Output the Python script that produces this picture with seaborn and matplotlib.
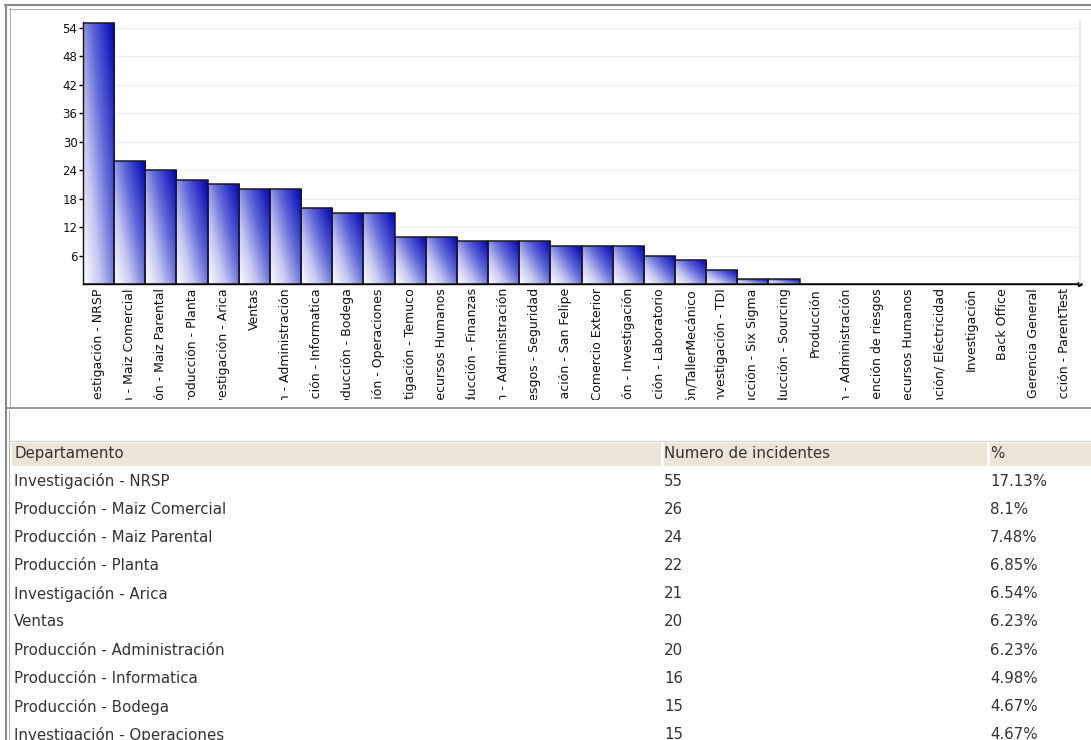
import numpy as np
import matplotlib
matplotlib.use("Agg")
import matplotlib.pyplot as plt
import seaborn as sns
from matplotlib.colors import LinearSegmentedColormap
from matplotlib.lines import Line2D
from matplotlib.patches import Rectangle
from matplotlib.transforms import Bbox, TransformedBbox

# Departamentos (full names; the chart only shows the end of each one)
departamentos = [
    "Investigación - NRSP", "Producción - Maiz Comercial", "Producción - Maiz Parental",
    "Producción - Planta", "Investigación - Arica", "Ventas", "Producción - Administración",
    "Producción - Informatica", "Producción - Bodega", "Investigación - Operaciones",
    "Investigación - Temuco", "Administración - Recursos Humanos", "Producción - Finanzas",
    "Investigación - Administración", "Prevención de riesgos - Seguridad",
    "Investigación - San Felipe", "Finanzas - Comercio Exterior", "Administración - Investigación",
    "Investigación - Laboratorio", "Mantención/TallerMecánico", "Investigación - TDI",
    "Producción - Six Sigma", "Producción - Sourcing", "Producción", "Operación - Administración",
    "Prevención de riesgos", "Gerencia - Recursos Humanos", "Mantención/ Eléctricidad",
    "Investigación", "Back Office", "Gerencia General", "Producción - ParentTest",
]
incidentes = [55, 26, 24, 22, 21, 20, 20, 16, 15, 15, 10, 10, 9, 9, 9, 8, 8, 8, 6, 5, 3, 1, 1,
              0, 0, 0, 0, 0, 0, 0, 0, 0]
y_ticks = [6, 12, 18, 24, 30, 36, 42, 48, 54]

# table below the chart (first rows only)
tabla_cols = ["Departamento", "Numero de incidentes", "%"]
tabla_pct = ["17.13%", "8.1%", "7.48%", "6.85%", "6.54%", "6.23%", "6.23%", "4.98%", "4.67%", "4.67%"]

W, H = 1091, 740
sns.set_theme(style="white")
plt.rcParams['font.family'] = ['DejaVu Sans']

fig = plt.figure(figsize=(W / 100, H / 100), dpi=100)
fig.patch.set_facecolor('white')


def fx(px):
    return px / W


def fy(py):
    return 1 - py / H


ax = fig.add_axes([fx(83), fy(284), fx(1080) - fx(83), fy(22) - fy(284)])
sns.barplot(x=departamentos, y=incidentes, ax=ax, color='#3030d0', width=1.0,
            edgecolor='#1a1a1a', linewidth=1.1, saturation=1)

# diagonal gradient inside each bar (light bottom-left, dark top-right)
cmap = LinearSegmentedColormap.from_list(
    'grad', [(0, '#ffffff'), (0.3, '#c4c6f2'), (0.6, '#6068da'), (1, '#0000b8')])
uu, vv = np.meshgrid(np.linspace(0, 1, 64), np.linspace(0, 1, 64))
grad = 0.55 * uu + 0.45 * vv
for p in ax.patches:
    h = p.get_height()
    if h <= 0:
        continue
    x0, w = p.get_x(), p.get_width()
    im = ax.imshow(grad, cmap=cmap, origin='lower', extent=(x0, x0 + w, 0, h),
                   aspect='auto', zorder=2, vmin=0, vmax=1, interpolation='bilinear')
    im.set_clip_path(p)
    p.set_facecolor('none')
    p.set_zorder(3)

ax.set_xlim(-0.5, len(departamentos) - 0.5)
ax.set_ylim(0, 55.2)
ax.set_yticks(y_ticks)
ax.set_yticklabels([str(t) for t in y_ticks])
ax.yaxis.grid(True, color='#efefef', lw=1)
ax.set_axisbelow(True)
for s in ['left', 'bottom']:
    ax.spines[s].set_color('black')
    ax.spines[s].set_linewidth(1)
ax.spines['top'].set_visible(False)
ax.spines['right'].set_color('#e4e4e4')
ax.plot(1, 0, marker='>', ms=3, color='black', transform=ax.transAxes, clip_on=False)

ax.tick_params(axis='y', length=3, width=1, color='black', labelsize=8.5, pad=1,
               direction='out', labelcolor='#111111', left=True)
ax.tick_params(axis='x', length=0, labelsize=9, pad=3, labelcolor='#111111')
ax.set_xticks(range(len(departamentos)))
ax.set_xticklabels(departamentos, rotation=90, ha='center', va='top')
clip = TransformedBbox(Bbox.from_extents(fx(80), fy(400), fx(1091), fy(285)), fig.transFigure)
for lbl in ax.get_xticklabels():
    lbl.set_clip_on(True)
    lbl.set_clip_box(clip)


# panel frames
def hline(y, x0, x1, c, lw=1):
    fig.add_artist(Line2D([fx(x0), fx(x1)], [fy(y), fy(y)], color=c, lw=lw, transform=fig.transFigure))


def vline(x, y0, y1, c, lw=1):
    fig.add_artist(Line2D([fx(x), fx(x)], [fy(y0), fy(y1)], color=c, lw=lw, transform=fig.transFigure))


hline(5, 5, W, '#8a8a8a', 1.5)
vline(6, 5, H, '#8a8a8a', 1.5)
hline(8.5, 9, W, '#b0b0b0', 0.8)
vline(9.5, 8, 408, '#b0b0b0', 0.8)
hline(408, 6, W, '#8a8a8a', 1.2)
vline(9, 410, H, '#b0b0b0', 0.8)
hline(440.5, 9, W, '#d4d4d4', 1)

# table
fig.add_artist(Rectangle((fx(12), fy(466)), fx(W) - fx(12), fy(443) - fy(466),
                         transform=fig.transFigure, facecolor='#ece5d7', edgecolor='none'))
vline(662, 443, 466, 'white', 2)
vline(988, 443, 466, 'white', 2)
col_x = [14, 664, 990]
fs = 10.8
for cx, name in zip(col_x, tabla_cols):
    fig.text(fx(cx), fy(454), name, ha='left', va='center', fontsize=fs, color='#333333')
for i, pct in enumerate(tabla_pct):
    yy = fy(481 + 28.2 * i)
    fig.text(fx(col_x[0]), yy, departamentos[i], ha='left', va='center', fontsize=fs, color='#333333')
    fig.text(fx(col_x[1]), yy, str(incidentes[i]), ha='left', va='center', fontsize=fs, color='#333333')
    fig.text(fx(col_x[2]), yy, pct, ha='left', va='center', fontsize=fs, color='#333333')

fig.savefig('out.png', dpi=100, facecolor='white')
